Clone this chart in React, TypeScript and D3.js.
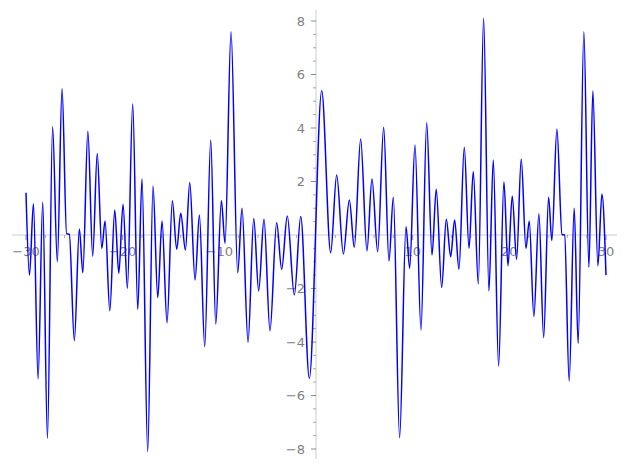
import React from "react";
import * as d3 from "d3";

const xVals: number[] = [
  -30.0, -29.64, -29.23, -28.75, -28.27, -27.78, -27.25, -26.76, -26.27, -25.8, -25.52,
  -25.0, -24.48, -24.12, -23.6, -23.1, -22.63, -22.16, -21.82, -21.33, -20.82, -20.4,
  -19.96, -19.51, -18.96, -18.44, -18.0, -17.41, -16.86, -16.37, -15.93, -15.41, -14.86,
  -14.41, -13.99, -13.51, -13.06, -12.51, -12.06, -11.51, -10.89, -10.37, -9.79, -9.41,
  -8.79, -8.1, -7.65, -7.03, -6.44, -5.93, -5.38, -4.76, -4.07, -3.55, -2.97, -2.24,
  -1.58, -0.69,
  0.59, 1.52, 2.14, 2.83, 3.45, 3.96, 4.62, 5.27, 5.79, 6.38, 7.0, 7.55, 8.0, 8.65, 9.31,
  9.69, 10.24, 10.86, 11.45, 12.0, 12.44, 13.0, 13.48, 13.93, 14.34, 14.79, 15.34, 15.83,
  16.27, 16.79, 17.34, 17.89, 18.34, 18.89, 19.44, 19.86, 20.3, 20.75, 21.23, 21.72, 22.06,
  22.54, 23.06, 23.55, 24.06, 24.4, 24.92, 25.45, 25.72, 26.19, 26.71, 27.12, 27.71, 28.23,
  28.64, 29.16, 29.58, 30.0,
];

const yVals: number[] = [
  1.58, -1.5, 1.17, -5.38, 1.23, -7.6, 4.05, -1.0, 5.47, 0.05, 0.03,
  -3.95, 0.22, -1.41, 3.88, -0.79, 3.05, -0.5, 0.52, -2.83, 0.93, -1.43,
  1.15, -1.99, 4.9, -2.78, 2.09, -8.1, 1.83, -2.34, 0.52, -3.28, 1.28,
  -0.53, 0.81, -0.56, 1.96, -1.68, 0.75, -4.17, 3.55, -3.33, 1.28, -0.31,
  7.6, -1.41, 1.0, -4.01, 0.62, -2.09, 0.59, -3.58, 0.46, -1.28, 0.71, -2.24,
  0.69, -5.36,
  5.39, -0.66, 2.24, -0.71, 1.31, -0.46, 3.59, -0.59, 2.09, -0.62, 4.03, -0.97, 1.41, -7.58, 0.31,
  -1.25, 3.36, -3.55, 4.2, -0.75, 1.71, -1.96, 0.59, -0.81, 0.56, -1.28, 3.28, -0.5,
  2.37, -1.83, 8.1, -2.09, 2.8, -4.9, 1.99, -1.15, 1.46, -0.91, 2.84, -0.5, 0.52,
  -3.05, 0.79, -3.84, 1.41, -0.21, 3.96, 0.02, 0.0, -5.46, 1.0, -4.05, 7.6, -1.21,
  5.38, -1.15, 1.53, -1.5,
];

const xMajorTicks: number[] = [-30, -20, -10, 10, 20, 30];
const yMajorTicks: number[] = [-8, -6, -4, -2, 2, 4, 6, 8];

const W = 627;
const H = 470;

export default function App() {
  const x = d3.scaleLinear().domain([-30, 30]).range([26, 606]);
  const y = d3.scaleLinear().domain([-8, 8]).range([449, 21]);
  const pts: [number, number][] = xVals.map((v, i) => [v, yVals[i]]);
  const line = d3
    .line<[number, number]>()
    .x((d) => x(d[0]))
    .y((d) => y(d[1]))
    .curve(d3.curveMonotoneX);

  const x0 = x(0);
  const y0 = y(0);
  const xMinor = d3.range(-30, 30.01, 2).filter((v) => v % 10 !== 0);
  const yMinor = d3.range(-8, 8.01, 0.5).filter((v) => v % 2 !== 0);
  const labelColor = "#808080";
  const tickColor = "#707070";

  return (
    <svg
      width={W}
      height={H}
      style={{ position: "absolute", left: 0, top: 0, background: "#fff" }}
      fontFamily="DejaVu Sans, sans-serif"
    >
      <line x1={12} x2={617} y1={y0} y2={y0} stroke="#e6e6e6" strokeWidth={2} />
      <line x1={x0} x2={x0} y1={10} y2={459} stroke="#e6e6e6" strokeWidth={2} />
      {xMajorTicks.map((t) => (
        <g key={"xm" + t}>
          <line x1={x(t)} x2={x(t)} y1={y0} y2={y0 + 5} stroke={tickColor} strokeWidth={0.8} />
          <text x={x(t)} y={y0 + 21} textAnchor="middle" fontSize={13} fill={labelColor}>
            {t < 0 ? "\u2212" + Math.abs(t) : String(t)}
          </text>
        </g>
      ))}
      {xMinor.map((t) => (
        <line key={"xn" + t} x1={x(t)} x2={x(t)} y1={y0} y2={y0 + 3} stroke={tickColor} strokeWidth={0.6} />
      ))}
      {yMajorTicks.map((t) => (
        <g key={"ym" + t}>
          <line x1={x0 - 5} x2={x0} y1={y(t)} y2={y(t)} stroke={tickColor} strokeWidth={0.8} />
          <text x={x0 - 11} y={y(t) + 4.5} textAnchor="end" fontSize={13} fill={labelColor}>
            {t < 0 ? "\u2212" + Math.abs(t) : String(t)}
          </text>
        </g>
      ))}
      {yMinor.map((t) => (
        <line key={"yn" + t} x1={x0 - 3} x2={x0} y1={y(t)} y2={y(t)} stroke={tickColor} strokeWidth={0.6} />
      ))}
      <path d={line(pts) || ""} fill="none" stroke="#0000ff" strokeWidth={1.5} />
    </svg>
  );
}
